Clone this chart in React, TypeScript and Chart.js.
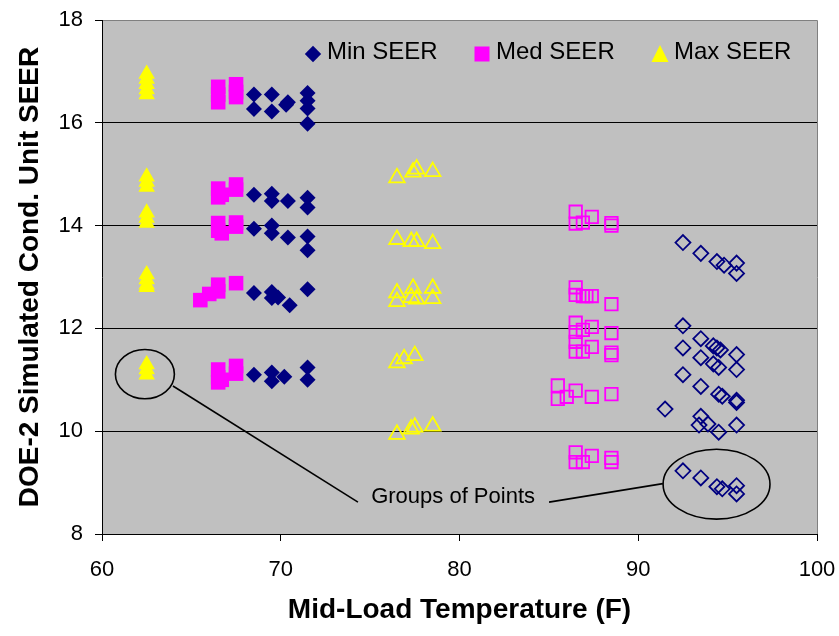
import React, { useEffect, useRef } from "react";
import { Chart, registerables } from "chart.js";

Chart.register(...registerables);

// ---------- data ----------
const X_TICKS = [60, 70, 80, 90, 100];
const Y_TICKS = [8, 10, 12, 14, 16, 18];
const SERIES_NAMES = ["Min SEER", "Med SEER", "Max SEER"];

// filled markers (left clusters)
const minSeerFilled: [number, number][] = [
  [68.5, 16.55], [68.5, 16.27], [69.5, 16.55], [69.5, 16.22], [70.4, 16.4], [70.3, 16.35],
  [71.5, 16.58], [71.5, 16.43], [71.5, 16.28], [71.5, 15.98],
  [68.5, 14.6], [69.5, 14.62], [69.5, 14.48], [70.4, 14.48], [71.5, 14.54], [71.5, 14.35],
  [68.5, 13.94], [69.5, 14.0], [69.5, 13.85], [70.4, 13.77], [71.5, 13.79], [71.5, 13.52],
  [68.5, 12.69], [69.5, 12.71], [69.5, 12.59], [69.85, 12.6], [70.5, 12.45], [71.5, 12.76],
  [68.5, 11.1], [69.5, 11.14], [69.5, 10.97], [70.2, 11.06], [71.5, 11.24], [71.5, 11.0],
];
const medSeerFilled: [number, number][] = [
  [66.5, 16.7], [66.5, 16.55], [66.5, 16.4], [67.5, 16.75], [67.5, 16.6], [67.5, 16.5],
  [66.5, 14.72], [66.5, 14.55], [66.7, 14.6], [67.5, 14.8], [67.5, 14.7],
  [66.5, 14.05], [66.5, 13.9], [66.7, 13.85], [67.5, 14.06], [67.5, 13.98],
  [65.5, 12.55], [66.0, 12.67], [66.5, 12.72], [66.5, 12.85], [67.5, 12.88],
  [66.5, 11.2], [66.5, 11.05], [66.5, 10.95], [66.7, 11.0], [67.5, 11.27], [67.5, 11.12],
];
const maxSeerFilled: [number, number][] = [
  [62.5, 16.95], [62.5, 16.85], [62.5, 16.75], [62.5, 16.65], [62.5, 16.55],
  [62.5, 14.95], [62.5, 14.85], [62.5, 14.75],
  [62.5, 14.25], [62.5, 14.15], [62.5, 14.05],
  [62.5, 13.05], [62.5, 12.95], [62.5, 12.85], [62.5, 12.8],
  [62.5, 11.3], [62.5, 11.2], [62.5, 11.1],
];

// open markers (right clusters)
const minSeerOpen: [number, number][] = [
  [92.5, 13.67], [93.5, 13.46], [94.4, 13.3], [94.8, 13.23], [95.5, 13.27], [95.5, 13.07],
  [92.5, 12.05], [93.5, 11.8], [94.2, 11.66], [94.4, 11.62], [94.6, 11.58], [92.5, 11.62],
  [93.5, 11.43], [95.5, 11.49], [94.2, 11.31], [94.5, 11.24], [95.5, 11.2], [92.5, 11.1],
  [93.5, 10.87], [94.5, 10.72], [94.7, 10.68], [95.5, 10.56], [95.5, 10.6], [91.5, 10.43],
  [93.5, 10.29], [93.4, 10.12], [93.9, 10.14], [94.5, 9.98], [95.5, 10.12],
  [92.5, 9.23], [93.5, 9.09], [94.4, 8.92], [94.7, 8.88], [95.5, 8.94], [95.5, 8.78],
];
const medSeerOpen: [number, number][] = [
  [86.5, 14.27], [86.5, 14.04], [86.9, 14.06], [87.4, 14.17], [88.5, 14.05], [88.5, 14.0],
  [86.5, 12.8], [86.5, 12.65], [86.9, 12.63], [87.1, 12.63], [87.4, 12.63], [88.5, 12.47],
  [86.5, 12.11], [86.5, 11.93], [86.9, 11.97], [87.4, 12.03], [88.5, 11.91],
  [86.5, 11.74], [86.5, 11.55], [86.9, 11.55], [87.4, 11.64], [88.5, 11.53], [88.5, 11.48],
  [85.5, 10.89], [85.5, 10.63], [86.0, 10.67], [86.5, 10.79], [87.4, 10.67], [88.5, 10.72],
  [86.5, 9.59], [86.5, 9.4], [86.9, 9.4], [87.4, 9.52], [88.5, 9.48], [88.5, 9.4],
];
const maxSeerOpen: [number, number][] = [
  [76.5, 14.93], [77.4, 15.04], [77.6, 15.1], [78.5, 15.05],
  [76.5, 13.73], [77.3, 13.69], [77.6, 13.69], [78.5, 13.65],
  [76.5, 12.69], [76.5, 12.52], [77.4, 12.78], [77.3, 12.6], [77.6, 12.57], [78.5, 12.78], [78.5, 12.58],
  [76.5, 11.33], [76.9, 11.41], [77.5, 11.47],
  [76.5, 9.94], [77.3, 10.04], [77.5, 10.08], [78.5, 10.1],
];

// annotation (data coordinates): ellipses [cx, cy, rx, ry], leader lines [x1,y1,x2,y2]
const ANNOT_TEXT = "Groups of Points";
const ANNOT_TEXT_POS: [number, number] = [79.64, 8.72];
const ANNOT_ELLIPSES: [number, number, number, number][] = [
  [62.4, 11.11, 1.65, 0.48],
  [94.38, 8.97, 2.99, 0.68],
];
const ANNOT_LINES: [number, number, number, number][] = [
  [63.97, 10.88, 74.32, 8.62],
  [85.01, 8.62, 91.38, 8.98],
];

const NAVY = "#000080";
const MAGENTA = "#FF00FF";
const YELLOW = "#FFFF00";
const FONT = "'Liberation Sans', Arial, Helvetica, sans-serif";

const toPts = (a: [number, number][]) => a.map(([x, y]) => ({ x, y }));

const bgPlugin = {
  id: "plotBg",
  beforeDraw(chart: any) {
    const { ctx, chartArea } = chart;
    const { left, top, right, bottom } = chartArea;
    ctx.save();
    ctx.fillStyle = "#c0c0c0";
    ctx.fillRect(left, top, right - left, bottom - top);
    ctx.strokeStyle = "#808080";
    ctx.lineWidth = 1;
    ctx.beginPath();
    ctx.moveTo(left, top + 0.5);
    ctx.lineTo(right + 0.5, top + 0.5);
    ctx.lineTo(right + 0.5, bottom);
    ctx.stroke();
    ctx.restore();
  },
};

const annotPlugin = {
  id: "annot",
  afterDatasetsDraw(chart: any) {
    const { ctx } = chart;
    const xs = chart.scales.x;
    const ys = chart.scales.y;
    ctx.save();
    ctx.strokeStyle = "#000";
    ctx.lineWidth = 1.6;
    ANNOT_ELLIPSES.forEach(([cx, cy, rx, ry]) => {
      const px = xs.getPixelForValue(cx);
      const py = ys.getPixelForValue(cy);
      const prx = Math.abs(xs.getPixelForValue(cx + rx) - px);
      const pry = Math.abs(ys.getPixelForValue(cy + ry) - py);
      ctx.beginPath();
      ctx.ellipse(px, py, prx, pry, 0, 0, Math.PI * 2);
      ctx.stroke();
    });
    ANNOT_LINES.forEach(([x1, y1, x2, y2]) => {
      ctx.beginPath();
      ctx.moveTo(xs.getPixelForValue(x1), ys.getPixelForValue(y1));
      ctx.lineTo(xs.getPixelForValue(x2), ys.getPixelForValue(y2));
      ctx.stroke();
    });
    ctx.fillStyle = "#000";
    ctx.font = `22px ${FONT}`;
    ctx.textAlign = "center";
    ctx.textBaseline = "middle";
    ctx.fillText(ANNOT_TEXT, xs.getPixelForValue(ANNOT_TEXT_POS[0]), ys.getPixelForValue(ANNOT_TEXT_POS[1]));
    ctx.restore();
  },
};

const legendPlugin = {
  id: "customLegend",
  afterDraw(chart: any) {
    const { ctx, chartArea } = chart;
    const y = chartArea.top + 34;
    const items = [
      { name: SERIES_NAMES[0], mx: 313, shape: "diamond", color: NAVY },
      { name: SERIES_NAMES[1], mx: 482, shape: "square", color: MAGENTA },
      { name: SERIES_NAMES[2], mx: 660, shape: "triangle", color: YELLOW },
    ];
    ctx.save();
    items.forEach((it) => {
      ctx.fillStyle = it.color;
      ctx.beginPath();
      if (it.shape === "diamond") {
        const r = 8.2;
        ctx.moveTo(it.mx - r, y);
        ctx.lineTo(it.mx, y - r);
        ctx.lineTo(it.mx + r, y);
        ctx.lineTo(it.mx, y + r);
        ctx.closePath();
      } else if (it.shape === "square") {
        ctx.rect(it.mx - 7.5, y - 7.5, 15, 15);
      } else {
        ctx.moveTo(it.mx, y - 9);
        ctx.lineTo(it.mx + 8.5, y + 8);
        ctx.lineTo(it.mx - 8.5, y + 8);
        ctx.closePath();
      }
      ctx.fill();
      ctx.fillStyle = "#000";
      ctx.font = `24px ${FONT}`;
      ctx.textAlign = "left";
      ctx.textBaseline = "middle";
      ctx.fillText(it.name, it.mx + 14, y - 2);
    });
    ctx.restore();
  },
};

export default function App() {
  const ref = useRef<HTMLCanvasElement | null>(null);

  useEffect(() => {
    if (!ref.current) return;
    Chart.defaults.font.family = FONT;
    const chart = new Chart(ref.current, {
      type: "scatter",
      data: {
        datasets: [
          {
            label: SERIES_NAMES[0],
            data: toPts(minSeerFilled),
            pointStyle: "rectRot",
            pointRadius: 8,
            backgroundColor: NAVY,
            borderColor: NAVY,
            borderWidth: 0,
          },
          {
            label: SERIES_NAMES[1],
            data: toPts(medSeerFilled),
            pointStyle: "rect",
            pointRadius: 10.3,
            backgroundColor: MAGENTA,
            borderColor: MAGENTA,
            borderWidth: 0,
          },
          {
            label: SERIES_NAMES[2],
            data: toPts(maxSeerFilled),
            pointStyle: "triangle",
            pointRadius: 9.5,
            backgroundColor: YELLOW,
            borderColor: YELLOW,
            borderWidth: 0,
          },
          {
            label: SERIES_NAMES[0] + " (open)",
            data: toPts(minSeerOpen),
            pointStyle: "rectRot",
            pointRadius: 7.5,
            backgroundColor: "rgba(0,0,0,0)",
            borderColor: NAVY,
            borderWidth: 1.8,
          },
          {
            label: SERIES_NAMES[1] + " (open)",
            data: toPts(medSeerOpen),
            pointStyle: "rect",
            pointRadius: 8.8,
            backgroundColor: "rgba(0,0,0,0)",
            borderColor: MAGENTA,
            borderWidth: 1.8,
          },
          {
            label: SERIES_NAMES[2] + " (open)",
            data: toPts(maxSeerOpen),
            pointStyle: "triangle",
            pointRadius: 9,
            backgroundColor: "rgba(0,0,0,0)",
            borderColor: YELLOW,
            borderWidth: 1.8,
          },
        ],
      },
      options: {
        responsive: false,
        animation: false,
        events: [],
        layout: { padding: { top: 20, right: 22, left: 0, bottom: 0 } },
        plugins: {
          legend: { display: false },
          tooltip: { enabled: false },
        },
        scales: {
          x: {
            type: "linear",
            min: X_TICKS[0],
            max: X_TICKS[X_TICKS.length - 1],
            afterBuildTicks: (s: any) => {
              s.ticks = X_TICKS.map((v) => ({ value: v }));
            },
            afterFit: (s: any) => {
              s.height = 102;
              s.paddingLeft = 0;
              s.paddingRight = 0;
              s.paddingTop = 0;
              s.paddingBottom = 0;
            },
            ticks: {
              color: "#000",
              font: { size: 22, family: FONT },
              padding: 16,
              maxRotation: 0,
            },
            grid: {
              drawOnChartArea: false,
              drawTicks: true,
              tickLength: 7,
              color: "#000",
              tickColor: "#000",
            },
            border: { display: true, color: "#000", width: 1 },
            title: {
              display: true,
              text: "Mid-Load Temperature (F)",
              color: "#000",
              font: { size: 28, weight: "bold", family: FONT },
              padding: { top: 0, bottom: 9 },
            },
          },
          y: {
            type: "linear",
            min: Y_TICKS[0],
            max: Y_TICKS[Y_TICKS.length - 1],
            afterBuildTicks: (s: any) => {
              s.ticks = Y_TICKS.map((v) => ({ value: v }));
            },
            afterFit: (s: any) => {
              s.width = 102;
              s.paddingLeft = 0;
              s.paddingRight = 0;
              s.paddingTop = 0;
              s.paddingBottom = 0;
            },
            ticks: {
              color: "#000",
              font: { size: 22, family: FONT },
              padding: 12,
            },
            grid: {
              drawOnChartArea: true,
              drawTicks: true,
              tickLength: 7,
              color: (c: any) => (c.tick && c.tick.value === 18 ? "#808080" : "#000"),
              tickColor: "#000",
            },
            border: { display: true, color: "#000", width: 1 },
            title: {
              display: true,
              text: "DOE-2 Simulated Cond. Unit SEER",
              color: "#000",
              font: { size: 28, weight: "bold", family: FONT },
              padding: { top: 13, bottom: 0 },
            },
          },
        },
      } as any,
      plugins: [bgPlugin, annotPlugin, legendPlugin],
    });
    return () => chart.destroy();
  }, []);

  return (
    <div style={{ position: "absolute", left: 0, top: 0, width: 839, height: 636, background: "#fff" }}>
      <canvas ref={ref} width={839} height={636} style={{ display: "block", width: 839, height: 636 }} />
    </div>
  );
}
